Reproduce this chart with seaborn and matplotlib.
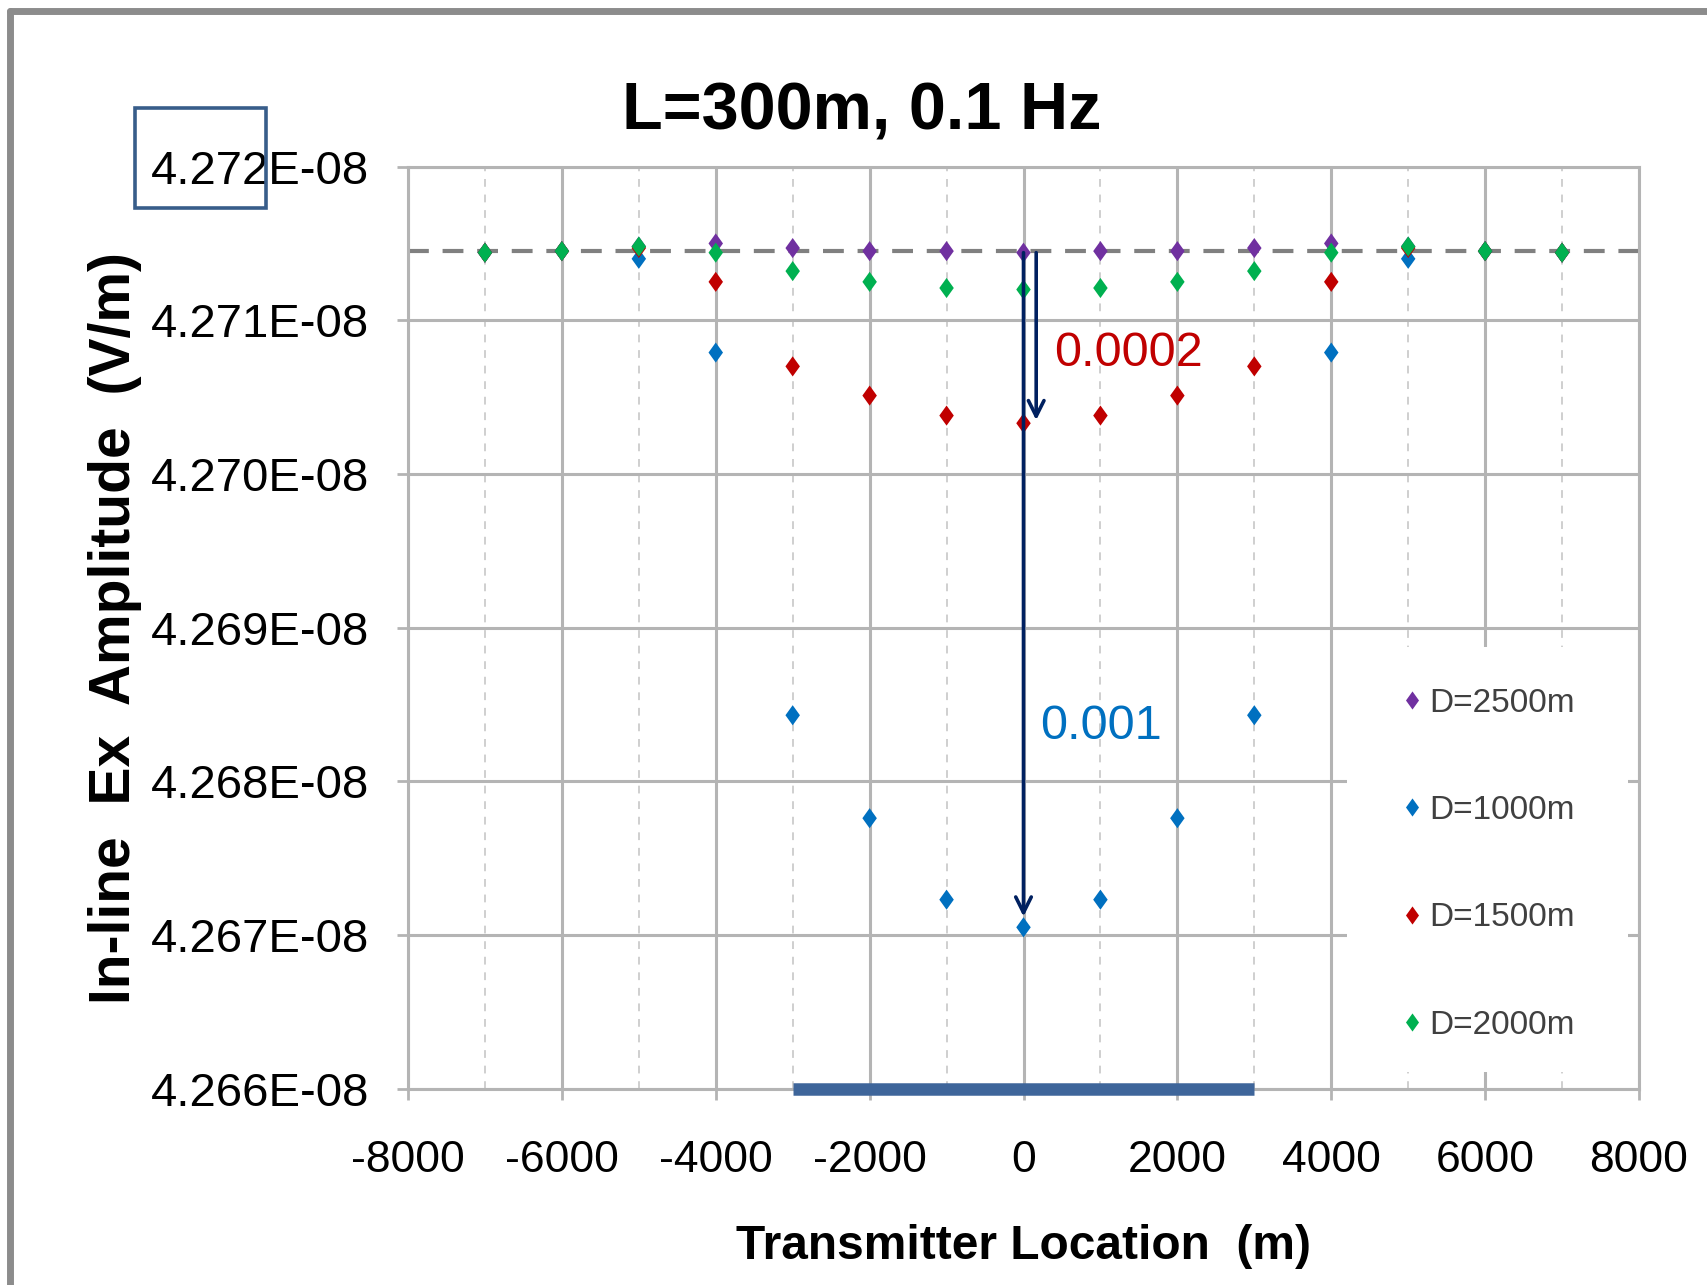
import numpy as np
import pandas as pd
import matplotlib
matplotlib.use("Agg")
import matplotlib.pyplot as plt
import seaborn as sns
from matplotlib.ticker import FuncFormatter, MultipleLocator
from matplotlib.patches import Rectangle
from matplotlib.lines import Line2D

# ---------------- data ----------------
title = "L=300m, 0.1 Hz"
x_label = "Transmitter Location  (m)"
y_label = "In-line  Ex  Amplitude  (V/m)"
series_names = ["D=2500m", "D=1000m", "D=1500m", "D=2000m"]
series_colors = ["#7030A0", "#0070C0", "#C00000", "#00B050"]

tx_location = [-7000, -6000, -5000, -4000, -3000, -2000, -1000, 0,
               1000, 2000, 3000, 4000, 5000, 6000, 7000]
# amplitudes in units of 1E-08 V/m
amp_d2500 = [4.27144, 4.27145, 4.27148, 4.27150, 4.27147, 4.27145, 4.27145, 4.27144,
             4.27145, 4.27145, 4.27147, 4.27150, 4.27148, 4.27145, 4.27144]
amp_d1000 = [4.27144, 4.27145, 4.27140, 4.27079, 4.26843, 4.26776, 4.26723, 4.26705,
             4.26723, 4.26776, 4.26843, 4.27079, 4.27140, 4.27145, 4.27144]
amp_d1500 = [4.27144, 4.27145, 4.27147, 4.27125, 4.27070, 4.27051, 4.27038, 4.27033,
             4.27038, 4.27051, 4.27070, 4.27125, 4.27147, 4.27145, 4.27144]
amp_d2000 = [4.27144, 4.27145, 4.27148, 4.27144, 4.27132, 4.27125, 4.27121, 4.27120,
             4.27121, 4.27125, 4.27132, 4.27144, 4.27148, 4.27145, 4.27144]

reference_level = 4.271453
bar_extent = [-3000, 3000]
arrow_big = {"x": 0, "start": 4.27144, "end": 4.26712}
arrow_small = {"x": 165, "start": 4.27144, "end": 4.27035}
note_small = {"text": "0.0002", "x": 396, "y": 4.270781, "color": "#C00000"}
note_big = {"text": "0.001", "x": 214, "y": 4.268360, "color": "#0070C0"}

x_min, x_max = -8000, 8000
y_min, y_max = 4.266, 4.272

# ---------------- build table ----------------
amps = [amp_d2500, amp_d1000, amp_d1500, amp_d2000]
frames = []
for name, vals in zip(series_names, amps):
    frames.append(pd.DataFrame({"x": tx_location, "amp": vals, "series": name}))
df = pd.concat(frames, ignore_index=True)

# ---------------- style ----------------
sns.set_theme(style="white")
plt.rcParams["font.family"] = ["Liberation Sans", "DejaVu Sans"]
plt.rcParams["text.color"] = "black"
plt.rcParams["axes.labelcolor"] = "black"

W, H = 1707, 1285
fig = plt.figure(figsize=(W / 100, H / 100), dpi=100)
ax_left, ax_right = 408 / W, 1639 / W
ax_top, ax_bottom = 1 - 166.6 / H, 1 - 1088.7 / H
ax = fig.add_axes([ax_left, ax_bottom, ax_right - ax_left, ax_top - ax_bottom])

grid_c = "#b4b4b4"
diamond = [(0, 1), (0.72, 0), (0, -1), (-0.72, 0), (0, 1)]
marker_area = 210

sns.scatterplot(data=df, x="x", y="amp", hue="series", hue_order=series_names,
                palette=series_colors, marker=diamond, s=marker_area, linewidth=0,
                ax=ax, zorder=5, legend=True)

ax.set_xlim(x_min, x_max)
ax.set_ylim(y_min, y_max)
ax.xaxis.set_major_locator(MultipleLocator(2000))
ax.yaxis.set_major_locator(MultipleLocator(0.001))
ax.yaxis.set_major_formatter(FuncFormatter(lambda v, p: f"{v:.3f}E-08"))
ax.xaxis.set_major_formatter(FuncFormatter(lambda v, p: f"{int(round(v))}"))

ax.grid(True, which="major", color=grid_c, lw=2.2, zorder=0)
for xm in range(-7000, 8000, 2000):
    ax.axvline(xm, color="#cfcfcf", lw=1.4, ls=(0, (4, 4)), zorder=0.5)
ax.set_axisbelow(True)
for sp in ax.spines.values():
    sp.set_color(grid_c)
    sp.set_linewidth(2.2)

ax.tick_params(axis="both", direction="out", length=8, width=2, color=grid_c,
               bottom=True, left=True, labelcolor="black")
ax.tick_params(axis="y", labelsize=34, pad=20)
ax.tick_params(axis="x", labelsize=32, pad=29)

ax.set_xlabel(x_label, fontsize=34.5, fontweight="bold", labelpad=31, color="black")
ax.set_ylabel(y_label, fontsize=41, fontweight="bold", labelpad=6, color="black")

# reference dashed line
ax.axhline(reference_level, color="#808080", lw=3, ls=(0, (5, 3.3)), zorder=2)

# bar on the axis
ax.plot(bar_extent, [y_min, y_min], color="#3e659a", lw=9, solid_capstyle="butt",
        clip_on=False, zorder=6)

# arrows
for a in (arrow_big, arrow_small):
    ax.annotate("", xy=(a["x"], a["end"]), xytext=(a["x"], a["start"]),
                arrowprops=dict(arrowstyle="->", color="#002060", lw=2.6,
                                mutation_scale=28, shrinkA=0, shrinkB=0), zorder=7)
for n in (note_small, note_big):
    ax.text(n["x"], n["y"], n["text"], color=n["color"], fontsize=35,
            ha="left", va="center", zorder=8)

# white area behind the legend (hides grid lines there)
ax.add_patch(Rectangle((0.7625, 0.0177), 0.9907 - 0.7625, 0.4793 - 0.0177,
                       transform=ax.transAxes, fc="white", ec="none", zorder=1))

# legend
handles, labels = ax.get_legend_handles_labels()
for h in handles:
    if hasattr(h, "set_markersize"):
        h.set_markersize(np.sqrt(marker_area) * 0.9)
    elif hasattr(h, "set_sizes"):
        h.set_sizes([marker_area * 0.8])
leg = ax.legend(handles, labels, loc="upper left", bbox_to_anchor=(0.8023, 0.435),
                frameon=False, fontsize=24, labelspacing=2.29, handlelength=1.0,
                handletextpad=0.0, borderpad=0, borderaxespad=0)
for t in leg.get_texts():
    t.set_color("#404040")

# title
fig.text(862 / W, 1 - 130 / H, title, fontsize=48, fontweight="bold",
         ha="center", va="baseline", color="black")

# box around part of the top tick label
fig.add_artist(Rectangle((135 / W, 1 - 208 / H), 131 / W, 100 / H,
                         transform=fig.transFigure, fill=False,
                         ec="#385d8a", lw=2.6))

# outer border (left and top)
fig.add_artist(Line2D([10 / W, 10 / W], [0, 1 - 11 / H], transform=fig.transFigure,
                      color="#8c8c8c", lw=5))
fig.add_artist(Line2D([10 / W, 1], [1 - 11 / H, 1 - 11 / H], transform=fig.transFigure,
                      color="#8c8c8c", lw=5))

fig.savefig("out.png", dpi=100)
